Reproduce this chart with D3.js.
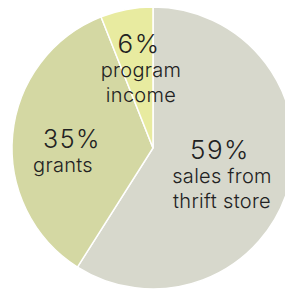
<!DOCTYPE html>
<html>
<head>
<meta charset="utf-8">
<script src="https://cdn.jsdelivr.net/npm/d3@7"></script>
<style>
  body { margin: 0; background: #fff; }
  text { font-family: "Inter", "Noto Sans", sans-serif; fill: #222; }
</style>
</head>
<body>
<div id="chart"></div>
<script>
// slices, clockwise from 12 o'clock
var shares = [59, 35, 6];
var pctLabels = ["59%", "35%", "6%"];
var nameLines = [["sales from", "thrift store"], ["grants"], ["program", "income"]];
var colors = ["#d7d8cc", "#d4d8a3", "#e8eba0"];

// where each label block sits (pie coords relative to center)
var labelPos = [[67, 11], [-81, 0], [-14, -95]];

var width = 285, height = 293;
var cx = 153, cy = 148, radius = 141;

var svg = d3.select("#chart")
  .append("svg")
    .attr("width", width)
    .attr("height", height)
  .append("g")
    .attr("transform", "translate(" + cx + "," + cy + ")");

var pie = d3.pie().sort(null).value(function(d) { return d; });
var arc = d3.arc().innerRadius(0).outerRadius(radius);

svg.selectAll("path")
  .data(pie(shares))
  .enter()
  .append("path")
    .attr("d", arc)
    .attr("fill", function(d, i) { return colors[i]; })
    .attr("stroke", "#fff")
    .attr("stroke-width", 1.5);

var labels = svg.selectAll("g.lbl")
  .data(shares)
  .enter()
  .append("g")
    .attr("class", "lbl")
    .attr("transform", function(d, i) { return "translate(" + labelPos[i][0] + "," + labelPos[i][1] + ")"; });

labels.append("text")
  .attr("text-anchor", "middle")
  .attr("font-size", function(d, i) { return i == 1 ? 25 : 26; })
  .attr("font-weight", 300)
  .attr("letter-spacing", 1.5)
  .text(function(d, i) { return pctLabels[i]; });

labels.each(function(d, i) {
  var g = d3.select(this);
  nameLines[i].forEach(function(line, j) {
    g.append("text")
      .attr("text-anchor", "middle")
      .attr("x", i == 1 ? -9 : 2)
      .attr("y", 24 + j * 25)
      .attr("font-size", 20)
      .attr("font-weight", 300)
      .attr("letter-spacing", 0.3)
      .text(line);
  });
});
</script>
</body>
</html>
